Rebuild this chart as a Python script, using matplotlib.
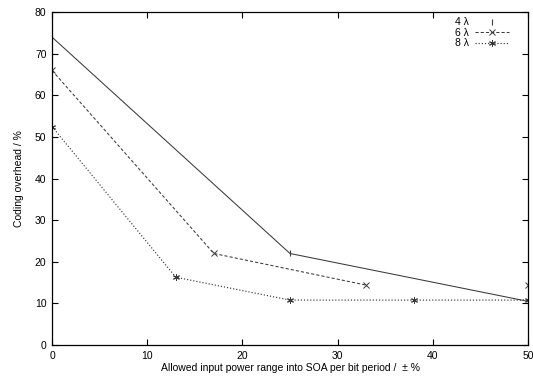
import numpy as np
import matplotlib
matplotlib.use("Agg")
import matplotlib.pyplot as plt

# data
x4 = [0, 25, 50]
y4 = [74, 22, 10.5]
x6 = [0, 17, 33]
y6 = [66, 22, 14.4]
x6_end = [50]
y6_end = [14.4]
x8 = [0, 13, 25, 38, 50]
y8 = [52.5, 16.3, 10.8, 10.8, 10.8]

xticks = [0, 10, 20, 30, 40, 50]
yticks = [0, 10, 20, 30, 40, 50, 60, 70, 80]

plt.rcParams['font.family'] = ['Liberation Sans', 'DejaVu Sans']
plt.rcParams['font.size'] = 7.5

fig = plt.figure(figsize=(5.33, 3.80), dpi=100)
ax = fig.add_axes([0.0976, 0.092, 0.893, 0.876])

lc = '#3a3a3a'
ax.plot(x4, y4, '-', color=lc, lw=0.75, marker='|', ms=4, mew=0.8, label='4 λ')
ax.plot(x6, y6, '--', color=lc, lw=0.75, dashes=(3, 2), marker='x', ms=4, mew=0.7, label='6 λ')
ax.plot(x6_end, y6_end, 'x', color=lc, ms=4, mew=0.7)
ax.plot(x8, y8, ':', color=lc, lw=0.85, marker=(6, 2, 0), ms=5, mew=0.7, label='8 λ')

ax.set_xlim(0, 50)
ax.set_ylim(0, 80)
ax.set_xticks(xticks)
ax.set_yticks(yticks)
ax.tick_params(direction='in', length=4, width=0.8, top=True, right=True, pad=4)
for s in ax.spines.values():
    s.set_linewidth(0.9)

ax.set_xlabel('Allowed input power range into SOA per bit period /  ± %', labelpad=2)
ax.set_ylabel('Coding overhead / %', labelpad=8)

leg = ax.legend(loc='upper right', frameon=False, markerfirst=False,
                handlelength=3.2, handletextpad=0.6, labelspacing=0.05,
                borderaxespad=0.2, borderpad=0.3, fontsize=7.5,
                bbox_to_anchor=(0.97, 1.0))
leg.legend_handles[0].set_linestyle('None')

fig.savefig('out.png', dpi=100)
